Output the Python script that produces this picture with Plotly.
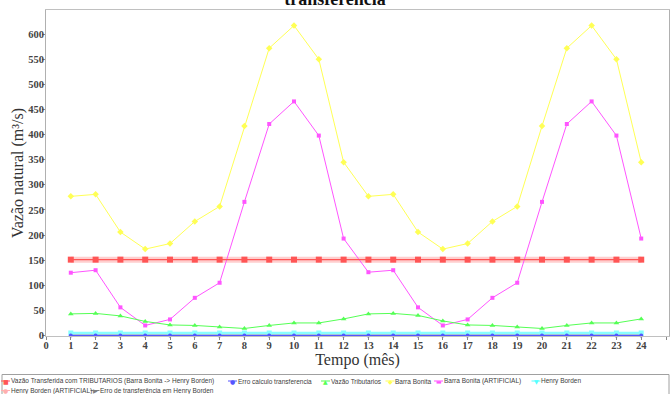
import plotly.graph_objects as go

# ---------------- data ----------------
months = list(range(1, 25))
vazao_transferida = [151, 151, 151, 151, 151, 151, 151, 151, 151, 151, 151, 151,
                     151, 151, 151, 151, 151, 151, 151, 151, 151, 151, 151, 151]
erro_calculo = [0, 0, 0, 0, 0, 0, 0, 0, 0, 0, 0, 0,
                0, 0, 0, 0, 0, 0, 0, 0, 0, 0, 0, 0]
vazao_tributarios = [43, 44, 39, 28, 21, 20, 17, 14, 20, 25, 25, 33,
                     43, 44, 40, 29, 21, 20, 17, 14, 20, 25, 25, 33]
barra_bonita = [277, 281, 206, 172, 183, 227, 257, 417, 572, 617, 550, 345,
                277, 281, 206, 172, 183, 227, 257, 417, 572, 617, 550, 345]
barra_bonita_art = [125, 130, 56, 20, 32, 75, 105, 266, 421, 466, 398, 193,
                    126, 130, 56, 20, 32, 75, 105, 266, 421, 466, 398, 193]
henry_borden = [5, 5, 5, 5, 5, 5, 5, 5, 5, 5, 5, 5,
                5, 5, 5, 5, 5, 5, 5, 5, 5, 5, 5, 5]
henry_borden_art = [151, 151, 151, 151, 151, 151, 151, 151, 151, 151, 151, 151,
                    151, 151, 151, 151, 151, 151, 151, 151, 151, 151, 151, 151]
erro_henry = [0, 0, 0, 0, 0, 0, 0, 0, 0, 0, 0, 0,
              0, 0, 0, 0, 0, 0, 0, 0, 0, 0, 0, 0]

series_names = [
    "Vazão Transferida com TRIBUTARIOS (Barra Bonita -> Henry Borden)",
    "Erro calculo transferencia",
    "Vazão Tributarios",
    "Barra Bonita",
    "Barra Bonita (ARTIFICIAL)",
    "Henry Borden",
    "Henry Borden (ARTIFICIAL)",
    "Erro de transferência em Henry Borden",
]
y_ticks = [0, 50, 100, 150, 200, 250, 300, 350, 400, 450, 500, 550, 600]
x_ticks = list(range(0, 26))
title_text = "transferencia"
x_title = "Tempo (mês)"
y_title = "Vazão natural (m³/s)"

# ---------------- style ----------------
W, H = 670, 394
ML, MR, MT, MB = 46, 1, 10, 58
PW, PH = W - ML - MR, H - MT - MB

RED = "#ff5555"
BLUE = "#5555ff"
GREEN = "#55ff55"
YELLOW = "#ffff55"
MAGENTA = "#ff55ff"
CYAN = "#55ffff"
PINK = "#ffafaf"
GRAY = "#8080a8"

fig = go.Figure()

def add(y, name, color, symbol, size, width=1.0, opacity=1.0):
    fig.add_trace(go.Scatter(
        x=months, y=y, name=name, mode="lines+markers",
        line=dict(color=color, width=width),
        marker=dict(color=color, symbol=symbol, size=size),
        opacity=opacity, cliponaxis=False, showlegend=False,
    ))

# drawn back to front (series 0 ends on top)
add(erro_henry, series_names[7], GRAY, "triangle-right", 4, width=3, opacity=0.55)
add(henry_borden_art, series_names[6], PINK, "circle", 5, width=6, opacity=0.6)
add(henry_borden, series_names[5], CYAN, "square", 5, width=2.5, opacity=0.7)
add(barra_bonita_art, series_names[4], MAGENTA, "square", 4, width=1)
add(barra_bonita, series_names[3], YELLOW, "diamond", 5, width=1)
add(vazao_tributarios, series_names[2], GREEN, "triangle-up", 5, width=1)
add(erro_calculo, series_names[1], BLUE, "circle", 4, width=1)
add(vazao_transferida, series_names[0], RED, "square", 6, width=1.2)

# ---------------- legend (drawn as a box with items) ----------------
def px2x(px):
    return (px - ML) / PW

def py2y(py):
    return (MT + PH - py) / PH

legend_colors = [RED, BLUE, GREEN, YELLOW, MAGENTA, CYAN, PINK, "#808080"]
legend_glyphs = ["■", "●", "▲", "◆", "▬", "▼", "●", "▶"]
legend_marker_px = [5.5, 232.5, 325.5, 390, 438.5, 536, 5.5, 95]
legend_row_py = [381, 381, 381, 381, 381, 381, 390.5, 390.5]

shapes = [dict(type="rect", xref="paper", yref="paper",
               x0=px2x(2), x1=px2x(669), y0=py2y(402), y1=py2y(374.5),
               line=dict(color="#a0a0a0", width=1), fillcolor="rgba(0,0,0,0)",
               layer="above")]
annotations = []
for name, col, gl, mx, ry in zip(series_names, legend_colors, legend_glyphs,
                                  legend_marker_px, legend_row_py):
    shapes.append(dict(type="line", xref="paper", yref="paper",
                       x0=px2x(mx - 4.5), x1=px2x(mx + 4.5),
                       y0=py2y(ry), y1=py2y(ry),
                       line=dict(color=col, width=1)))
    annotations.append(dict(xref="paper", yref="paper", x=px2x(mx), y=py2y(ry),
                            text=gl, showarrow=False, xanchor="center",
                            yanchor="middle", borderpad=0,
                            font=dict(family="DejaVu Sans", size=6, color=col)))
    annotations.append(dict(xref="paper", yref="paper", x=px2x(mx + 4),
                            y=py2y(ry), text=name, showarrow=False,
                            xanchor="left", yanchor="middle", borderpad=0,
                            font=dict(family="Liberation Sans", size=6.5,
                                      color="#404040")))

tick_font = dict(family="Liberation Serif", size=10.5, color="#444444")

fig.update_layout(
    template="none",
    width=W, height=H,
    margin=dict(l=ML, r=MR, t=MT, b=MB, pad=0, autoexpand=False),
    paper_bgcolor="white", plot_bgcolor="white",
    title=dict(text="<b>" + title_text + "</b>", x=0.5, xref="container",
               xanchor="center", y=1 - 5 / H, yref="container",
               yanchor="bottom",
               font=dict(family="Liberation Serif", size=18, color="#111111")),
    xaxis=dict(range=[0, 25.12], tickmode="array", tickvals=x_ticks,
               ticktext=["<b>%d</b>" % t for t in x_ticks],
               ticks="outside", ticklen=3, tickcolor="#888888",
               ticklabelstandoff=-4,
               showgrid=False, zeroline=False, automargin=False,
               showline=True, linecolor="#c0c0c0", mirror=True,
               tickfont=tick_font,
               title=dict(text=x_title, standoff=3,
                          font=dict(family="Liberation Serif", size=16,
                                    color="#333333"))),
    yaxis=dict(range=[-1, 648], tickmode="array", tickvals=y_ticks,
               ticktext=["<b>%d</b>" % t for t in y_ticks],
               ticks="outside", ticklen=3, tickcolor="#888888",
               ticklabelstandoff=-4,
               showgrid=False, zeroline=False, automargin=False,
               showline=True, linecolor="#b0b0b0", mirror=True,
               tickfont=tick_font,
               title=dict(text=y_title, standoff=0,
                          font=dict(family="Liberation Serif", size=16,
                                    color="#333333"))),
    shapes=shapes,
    annotations=annotations,
    showlegend=False,
)

fig.write_html("out.html",
               config={"displayModeBar": False},
               post_script="document.body.style.margin='0';"
                           "document.body.style.overflow='hidden';")
